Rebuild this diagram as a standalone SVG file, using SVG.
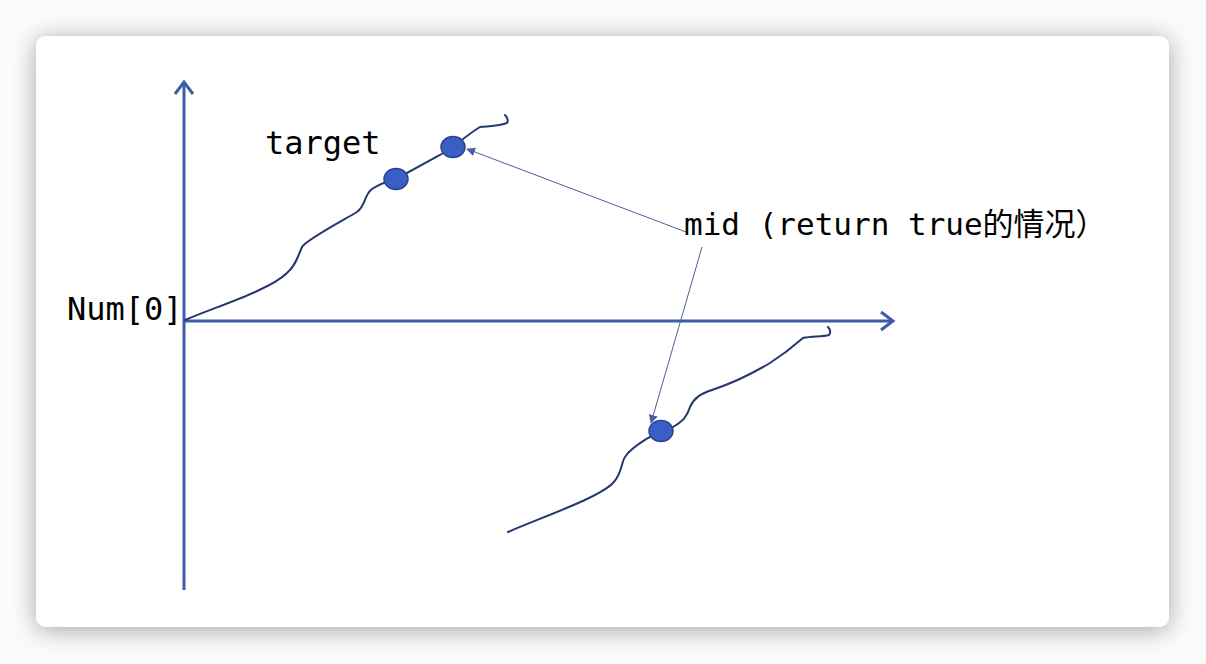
<svg xmlns="http://www.w3.org/2000/svg" width="1206" height="664" viewBox="0 0 1206 664">
<style>
.axis{stroke:#3d5ca9;stroke-width:3;fill:none}
.curve{stroke:#24386f;stroke-width:2;fill:none;stroke-linecap:round}
.dot{fill:#3a5ec6;stroke:#2a4690;stroke-width:1.5}
.lead{stroke:#4a5f9f;stroke-width:1;fill:none}
.lbl{font-family:"DejaVu Sans Mono","Liberation Mono","Noto Sans CJK SC",monospace;font-size:32px;fill:#000}
.mid{font-size:31px}
</style>
<defs>
<filter id="sh" x="-10%" y="-10%" width="120%" height="125%">
<feDropShadow dx="0" dy="3" stdDeviation="12" flood-color="#000" flood-opacity="0.35"/>
</filter>
<marker id="ah" viewBox="0 0 10 10" refX="9" refY="5" markerWidth="9" markerHeight="9" markerUnits="userSpaceOnUse" orient="auto">
<path d="M0,0 L10,5 L0,10 z" fill="#4a5f9f"/>
</marker>
</defs>
<rect width="1206" height="664" fill="#fbfbfb"/>
<rect x="36" y="36" width="1133" height="591" rx="10" fill="#ffffff" filter="url(#sh)"/>
<g id="axes">
<path class="axis" d="M184,590 L184,82"/>
<path class="axis" d="M175,94 L184,82 L193,94"/>
<path class="axis" d="M184,321 L893,321"/>
<path class="axis" d="M881,312 L893,321 L881,330"/>
</g>
<g id="curve-upper">
<path class="curve" d="M185,320 C215,307 270,290 287,273 C296,265 298,256 302,247 C306,240 340,222 357,212 C366,205 364,195 372,189 C378,185 385,182 396,179 L440,155 L453,147 C462,140 470,133 480,127 C490,126 500,126 507,123 C509,120 507,117 505,115"/>
</g>
<g id="curve-lower">
<path class="curve" d="M508,532 C545,516 598,498 613,483 C622,474 621,463 625,457 C630,449 640,443 648,438 L661,431 L673,427 C682,422 687,417 690,407 C694,398 700,394 712,390 C730,384 750,375 770,363 C784,354 795,345 803,338 C812,336 822,337 829,335 C831,332 830,329 828,327"/>
</g>
<g id="dots">
<ellipse id="target-dot" class="dot" cx="396" cy="179" rx="12" ry="10.5"/>
<ellipse id="mid-dot-1" class="dot" cx="453" cy="147" rx="12" ry="10.5"/>
<ellipse id="mid-dot-2" class="dot" cx="661" cy="431" rx="12" ry="10.5"/>
</g>
<g id="connectors">
<path class="lead" d="M686,232 L467,149" marker-end="url(#ah)"/>
<path class="lead" d="M702,247 L651,423" marker-end="url(#ah)"/>
</g>
<g id="labels">
<text class="lbl" x="265" y="154">target</text>
<text class="lbl" x="67" y="320">Num[0]</text>
<text class="lbl mid" x="684" y="235">mid (return true的情况）</text>
</g>
</svg>
